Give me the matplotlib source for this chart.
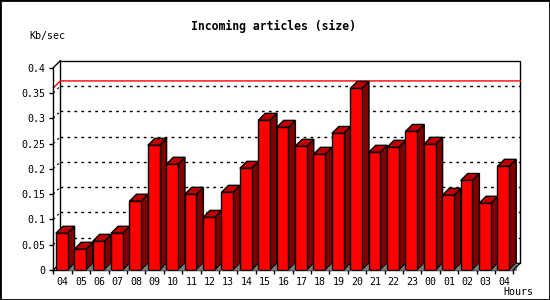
import matplotlib
matplotlib.use('Agg')
import matplotlib.pyplot as plt
from matplotlib.patches import Rectangle, Polygon

hours = ['04', '05', '06', '07', '08', '09', '10', '11', '12', '13', '14', '15', '16',
         '17', '18', '19', '20', '21', '22', '23', '00', '01', '02', '03', '04']
kb_sec = [0.0726, 0.041, 0.0567, 0.0726, 0.136, 0.2465, 0.209, 0.1496, 0.104, 0.1536,
          0.201, 0.296, 0.282, 0.2446, 0.2287, 0.270, 0.359, 0.2327, 0.2426, 0.274,
          0.2485, 0.1477, 0.177, 0.132, 0.205]
max_line = 0.36
y_ticks = [0, 0.05, 0.1, 0.15, 0.2, 0.25, 0.3, 0.35, 0.4]
y_tick_labels = ['0', '0.05', '0.1', '0.15', '0.2', '0.25', '0.3', '0.35', '0.4']

W, H = 550, 300
FONT = 'DejaVu Sans Mono'

# plot geometry in pixels
x0_px, y0_px = 53.3, 270.0      # front origin
slot_px = 18.4                  # one hour
ytop_px = 67.7                  # front position of 0.4
depth = 7.0                     # 3d offset
n = len(hours)
ymax = y_ticks[-1]
px_per_y = (y0_px - ytop_px) / ymax
dx = depth / slot_px
dy = depth / px_per_y

fig = plt.figure(figsize=(W / 100, H / 100), dpi=100)
ax_w = (n + dx) * slot_px
ax_h = (ymax + dy) * px_per_y
ax = fig.add_axes([x0_px / W, (H - y0_px) / H, ax_w / W, ax_h / H])
ax.set_xlim(0, n + dx)
ax.set_ylim(0, ymax + dy)
ax.patch.set_visible(False)

for s in ['top', 'right']:
    ax.spines[s].set_visible(False)
ax.spines['left'].set_bounds(0, ymax)
ax.spines['bottom'].set_bounds(0, n)
ax.spines['left'].set_linewidth(1)
ax.spines['bottom'].set_linewidth(1)

# back plane + grid
ax.add_patch(Rectangle((dx, dy), n, ymax, facecolor='white', edgecolor='black',
                       lw=1, zorder=0.5, clip_on=False))
for v in y_ticks[1:-1]:
    ax.plot([dx, n + dx], [v + dy, v + dy], color='black', lw=1,
            linestyle=(0, (2, 3)), zorder=0.6, clip_on=False)
    ax.plot([0, dx], [v, v + dy], color='black', lw=0.8,
            linestyle=(0, (2, 3)), zorder=0.6, clip_on=False)
ax.plot([0, dx], [ymax, ymax + dy], color='black', lw=1, clip_on=False)
ax.plot([0, dx], [0, dy], color='black', lw=1, clip_on=False)
ax.plot([n, n + dx], [0, dy], color='black', lw=1, clip_on=False, zorder=5)

# max line
ax.plot([0, dx, n + dx], [max_line, max_line + dy, max_line + dy],
        color='red', lw=1, zorder=0.7, clip_on=False)

# bars
bw = 0.636
off = 0.141
xs = [i + off + bw / 2 for i in range(n)]
ax.bar(xs, kb_sec, width=bw, color='#ff0000', edgecolor='black', lw=1, zorder=3)
for i, v in enumerate(kb_sec):
    xl = i + off
    xr = xl + bw
    ax.add_patch(Polygon([(xr, 0), (xr + dx, dy), (xr + dx, v + dy), (xr, v)],
                         closed=True, facecolor='#800000', edgecolor='black',
                         lw=1, zorder=2.5, clip_on=False))
    ax.add_patch(Polygon([(xl, v), (xl + dx, v + dy), (xr + dx, v + dy), (xr, v)],
                         closed=True, facecolor='#c00000', edgecolor='black',
                         lw=1, zorder=2.5, clip_on=False))
    ax.add_patch(Polygon([(xr, 0), (xr + dx, 0), (xr + dx, dy)],
                         closed=True, facecolor='#808080', edgecolor='#606060',
                         lw=0.5, zorder=2.6, clip_on=False))

# ticks
ax.set_yticks(y_ticks)
ax.set_yticklabels(y_tick_labels, fontsize=7.2, family=FONT)
ax.tick_params(axis='y', direction='out', length=3, width=1, pad=3)
ax.set_xticks(range(n + 1), minor=True)
ax.set_xticks([i + 0.5 for i in range(n)])
ax.set_xticklabels(hours, fontsize=7.2, family=FONT)
ax.tick_params(axis='x', which='major', length=0, pad=5)
ax.tick_params(axis='x', which='minor', direction='out', length=3, width=1)

# texts
fig.text(273.5 / W, 1 - 26.5 / H, 'Incoming articles (size)', ha='center', va='center',
         fontsize=8.3, family=FONT, weight='bold')
fig.text(29 / W, 1 - 36.5 / H, 'Kb/sec', ha='left', va='center', fontsize=7.2, family=FONT)
fig.text(533 / W, 1 - 292 / H, 'Hours', ha='right', va='center', fontsize=7.2, family=FONT)

# image border
fig.patches.append(Rectangle((0, 0), 1, 1, transform=fig.transFigure, fill=False,
                             edgecolor='black', lw=2))

fig.savefig('out.png', dpi=100)
